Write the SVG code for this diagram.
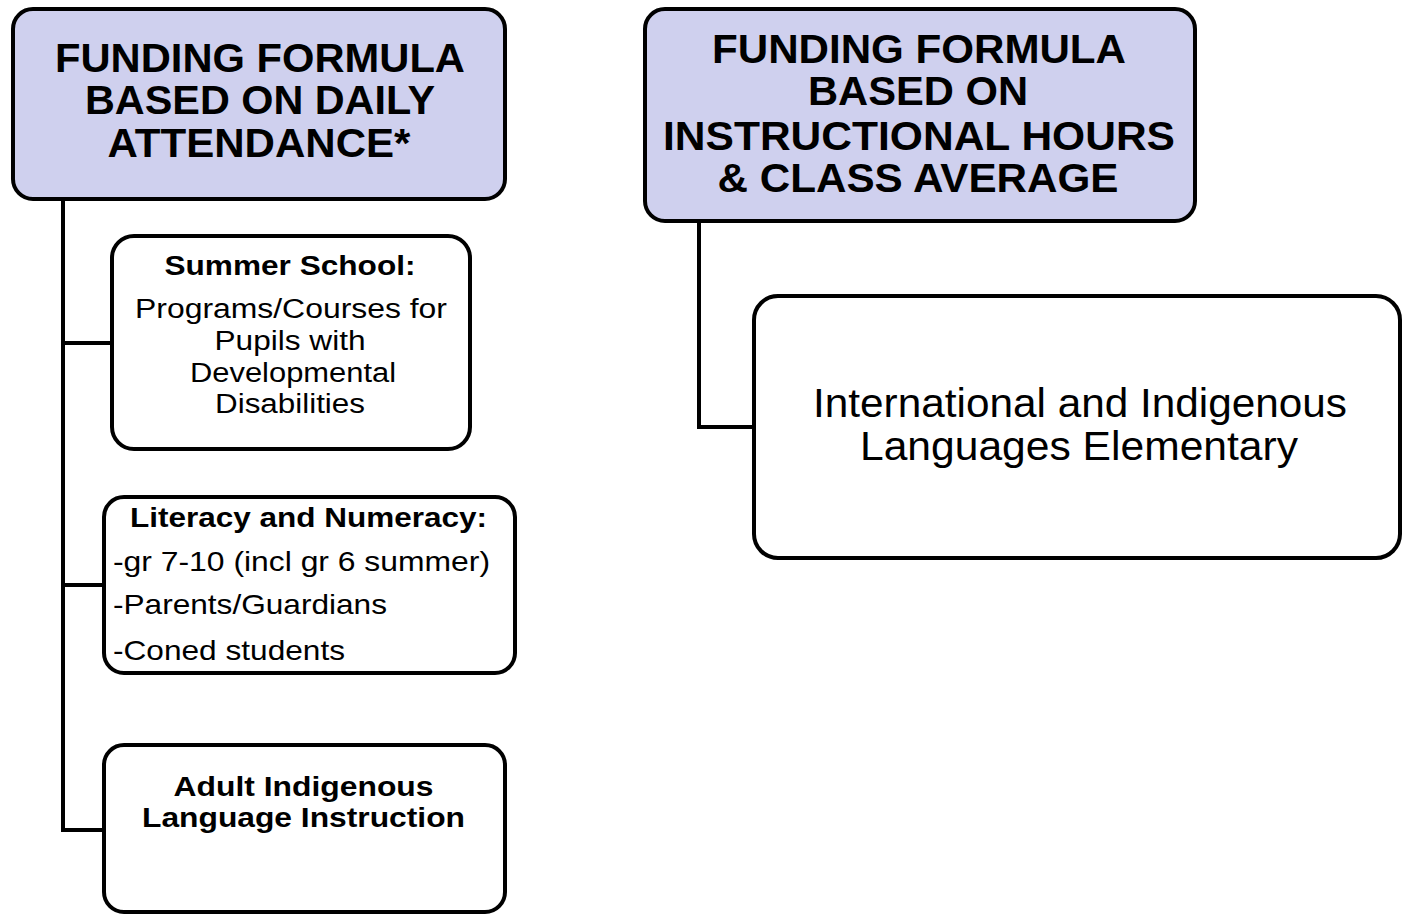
<svg xmlns="http://www.w3.org/2000/svg" width="1404" height="915" viewBox="0 0 1404 915">
<style>
.hdr{fill:#cfd0ee;stroke:#000;stroke-width:4}
.box{fill:#fff;stroke:#000;stroke-width:4}
.con{fill:none;stroke:#000;stroke-width:4;stroke-linejoin:miter}
text{font-family:"Liberation Sans",Arial,sans-serif;fill:#000}
.h{font-size:41px;font-weight:bold;text-anchor:middle}
.b{font-size:28px;font-weight:bold;text-anchor:middle}
.r{font-size:27px;text-anchor:middle}
.l{font-size:28px;text-anchor:start}
.big{font-size:40px;text-anchor:middle}
</style>
<rect width="1404" height="915" fill="#fff"/>
<g id="connectors">
<path class="con" d="M63 199 V830 H104 M63 343 H112 M63 585 H104"/>
<path class="con" d="M699 221 V427 H754"/>
</g>
<g id="header-left">
<rect class="hdr" x="13" y="9" width="492" height="190" rx="20"/>
<text class="h" x="260" y="72" textLength="410" lengthAdjust="spacingAndGlyphs">FUNDING FORMULA</text>
<text class="h" x="260" y="114" textLength="350" lengthAdjust="spacingAndGlyphs">BASED ON DAILY</text>
<text class="h" x="259" y="157" textLength="303" lengthAdjust="spacingAndGlyphs">ATTENDANCE*</text>
</g>
<g id="summer-school">
<rect class="box" x="112" y="236" width="358" height="213" rx="22"/>
<text class="b" x="290" y="275" textLength="251" lengthAdjust="spacingAndGlyphs">Summer School:</text>
<text class="r" x="291" y="318" textLength="312" lengthAdjust="spacingAndGlyphs">Programs/Courses for</text>
<text class="r" x="290" y="350" textLength="151" lengthAdjust="spacingAndGlyphs">Pupils with</text>
<text class="r" x="293" y="382" textLength="206" lengthAdjust="spacingAndGlyphs">Developmental</text>
<text class="r" x="290" y="413" textLength="150" lengthAdjust="spacingAndGlyphs">Disabilities</text>
</g>
<g id="literacy-numeracy">
<rect class="box" x="104" y="497" width="411" height="176" rx="20"/>
<text class="b" x="308.5" y="527" textLength="357" lengthAdjust="spacingAndGlyphs">Literacy and Numeracy:</text>
<text class="l" x="113" y="571" textLength="377" lengthAdjust="spacingAndGlyphs">-gr 7-10 (incl gr 6 summer)</text>
<text class="l" x="113" y="614" textLength="274" lengthAdjust="spacingAndGlyphs">-Parents/Guardians</text>
<text class="l" x="113" y="660" textLength="232" lengthAdjust="spacingAndGlyphs">-Coned students</text>
</g>
<g id="adult-indigenous">
<rect class="box" x="104" y="745" width="401" height="167" rx="20"/>
<text class="b" x="303.5" y="796" textLength="260" lengthAdjust="spacingAndGlyphs">Adult Indigenous</text>
<text class="b" x="303.5" y="827" textLength="323" lengthAdjust="spacingAndGlyphs">Language Instruction</text>
</g>
<g id="header-right">
<rect class="hdr" x="645" y="9" width="550" height="212" rx="20"/>
<text class="h" x="919" y="63" textLength="414" lengthAdjust="spacingAndGlyphs">FUNDING FORMULA</text>
<text class="h" x="918" y="105" textLength="220" lengthAdjust="spacingAndGlyphs">BASED ON</text>
<text class="h" x="919" y="150" textLength="512" lengthAdjust="spacingAndGlyphs">INSTRUCTIONAL HOURS</text>
<text class="h" x="918" y="192" textLength="401" lengthAdjust="spacingAndGlyphs">&amp; CLASS AVERAGE</text>
</g>
<g id="intl-indigenous">
<rect class="box" x="754" y="296" width="646" height="262" rx="24"/>
<text class="big" x="1080" y="417" textLength="534" lengthAdjust="spacingAndGlyphs">International and Indigenous</text>
<text class="big" x="1079" y="460" textLength="438" lengthAdjust="spacingAndGlyphs">Languages Elementary</text>
</g>
</svg>
